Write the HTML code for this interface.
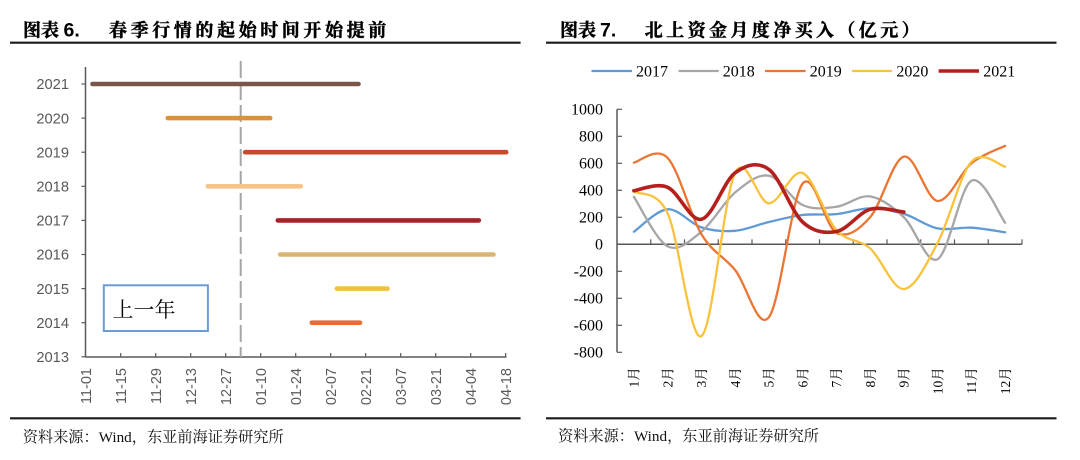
<!DOCTYPE html>
<html><head><meta charset="utf-8"><style>
html,body{margin:0;padding:0;background:#fff;}
svg{display:block;}
.ttl{font-family:"Liberation Serif","Noto Serif CJK SC",serif;font-weight:700;font-size:18px;fill:#000;stroke:#000;stroke-width:0.45;}
.ttl6{font-family:"Liberation Sans",sans-serif;font-weight:700;font-size:19.5px;fill:#000;}
.ft{font-family:"Liberation Serif","Noto Serif CJK SC",serif;font-size:15.2px;fill:#111;}
.ly{font-family:"Liberation Sans",sans-serif;font-size:14.7px;fill:#595959;}
.lx{font-family:"Liberation Sans",sans-serif;font-size:14.5px;fill:#595959;}
.ry{font-family:"Liberation Serif",serif;font-size:16px;fill:#000;}
.rx{font-family:"Liberation Serif","Noto Serif CJK SC",serif;font-size:13.5px;fill:#000;}
</style></head><body>
<svg width="1080" height="460" viewBox="0 0 1080 460" xmlns="http://www.w3.org/2000/svg">
<rect width="1080" height="460" fill="#fff"/>

<!-- ===== LEFT PANEL ===== -->
<text class="ttl" x="23" y="36.5">图表</text>
<text class="ttl6" x="63.5" y="36.7">6.</text>
<text class="ttl" x="109" y="36.5" letter-spacing="3.6">春季行情的起始时间开始提前</text>
<line x1="10" y1="42.7" x2="520.6" y2="42.7" stroke="#1a1a1a" stroke-width="2.2"/>

<!-- axes -->
<line x1="85.5" y1="67" x2="85.5" y2="357" stroke="#595959" stroke-width="1.5"/>
<line x1="85.5" y1="357" x2="506.5" y2="357" stroke="#595959" stroke-width="1.5"/>
<g stroke="#595959" stroke-width="1.2">
<line x1="81.5" y1="84" x2="85.5" y2="84"/>
<line x1="81.5" y1="118.1" x2="85.5" y2="118.1"/>
<line x1="81.5" y1="152.2" x2="85.5" y2="152.2"/>
<line x1="81.5" y1="186.3" x2="85.5" y2="186.3"/>
<line x1="81.5" y1="220.4" x2="85.5" y2="220.4"/>
<line x1="81.5" y1="254.5" x2="85.5" y2="254.5"/>
<line x1="81.5" y1="288.6" x2="85.5" y2="288.6"/>
<line x1="81.5" y1="322.7" x2="85.5" y2="322.7"/>
<line x1="81.5" y1="356.8" x2="85.5" y2="356.8"/>
<line x1="120.7" y1="353" x2="120.7" y2="357"/>
<line x1="155.7" y1="353" x2="155.7" y2="357"/>
<line x1="190.7" y1="353" x2="190.7" y2="357"/>
<line x1="225.7" y1="353" x2="225.7" y2="357"/>
<line x1="260.7" y1="353" x2="260.7" y2="357"/>
<line x1="295.7" y1="353" x2="295.7" y2="357"/>
<line x1="330.7" y1="353" x2="330.7" y2="357"/>
<line x1="365.7" y1="353" x2="365.7" y2="357"/>
<line x1="400.7" y1="353" x2="400.7" y2="357"/>
<line x1="435.7" y1="353" x2="435.7" y2="357"/>
<line x1="470.7" y1="353" x2="470.7" y2="357"/>
<line x1="505.7" y1="353" x2="505.7" y2="357"/>
</g>

<!-- year labels -->
<g class="ly" text-anchor="end">
<text x="69" y="89.2">2021</text>
<text x="69" y="123.3">2020</text>
<text x="69" y="157.4">2019</text>
<text x="69" y="191.5">2018</text>
<text x="69" y="225.6">2017</text>
<text x="69" y="259.7">2016</text>
<text x="69" y="293.8">2015</text>
<text x="69" y="327.9">2014</text>
<text x="69" y="362">2013</text>
</g>

<!-- date labels -->
<g class="lx" text-anchor="end">
<text transform="translate(85.7,368) rotate(-90)" y="5.2">11-01</text>
<text transform="translate(120.7,368) rotate(-90)" y="5.2">11-15</text>
<text transform="translate(155.7,368) rotate(-90)" y="5.2">11-29</text>
<text transform="translate(190.7,368) rotate(-90)" y="5.2">12-13</text>
<text transform="translate(225.7,368) rotate(-90)" y="5.2">12-27</text>
<text transform="translate(260.7,368) rotate(-90)" y="5.2">01-10</text>
<text transform="translate(295.7,368) rotate(-90)" y="5.2">01-24</text>
<text transform="translate(330.7,368) rotate(-90)" y="5.2">02-07</text>
<text transform="translate(365.7,368) rotate(-90)" y="5.2">02-21</text>
<text transform="translate(400.7,368) rotate(-90)" y="5.2">03-07</text>
<text transform="translate(435.7,368) rotate(-90)" y="5.2">03-21</text>
<text transform="translate(470.7,368) rotate(-90)" y="5.2">04-04</text>
<text transform="translate(505.7,368) rotate(-90)" y="5.2">04-18</text>
</g>

<!-- dashed line -->
<line x1="240.7" y1="61" x2="240.7" y2="357" stroke="#a6a6a6" stroke-width="2" stroke-dasharray="17,5"/>

<!-- bars -->
<g stroke-width="4.6" stroke-linecap="round" fill="none">
<line x1="92.5" y1="84" x2="358.5" y2="84" stroke="#7b5549"/>
<line x1="167.8" y1="118.1" x2="270.2" y2="118.1" stroke="#d8923a"/>
<line x1="245.2" y1="152.2" x2="506.2" y2="152.2" stroke="#c9472a"/>
<line x1="207.8" y1="186.3" x2="300.8" y2="186.3" stroke="#f7c488"/>
<line x1="277.8" y1="220.4" x2="478.8" y2="220.4" stroke="#a82329"/>
<line x1="280.2" y1="254.5" x2="493.5" y2="254.5" stroke="#d8b773"/>
<line x1="336.9" y1="288.6" x2="387.5" y2="288.6" stroke="#f0c13d"/>
<line x1="311.8" y1="322.7" x2="360" y2="322.7" stroke="#e76f2f"/>
</g>

<!-- text box -->
<rect x="103.8" y="285.3" width="104.1" height="45.7" fill="#fff" stroke="#6d9bd6" stroke-width="2"/>
<text x="112.5" y="317" font-family="'Noto Serif CJK SC','Noto Sans CJK SC',serif" font-size="21" fill="#000">上一年</text>

<!-- footer -->
<line x1="10" y1="418.3" x2="520.6" y2="418.3" stroke="#1a1a1a" stroke-width="2.2"/>
<text class="ft" x="22.7" y="442">资料来源：Wind，东亚前海证券研究所</text>

<!-- ===== RIGHT PANEL ===== -->
<text class="ttl" x="560" y="36.5">图表</text>
<text class="ttl6" x="600" y="36.7">7.</text>
<text class="ttl" x="644.8" y="36.5" letter-spacing="3.4">北上资金月度净买入（亿元）</text>
<line x1="546" y1="42.7" x2="1056.5" y2="42.7" stroke="#1a1a1a" stroke-width="2.2"/>

<!-- legend -->
<g stroke-width="2.3">
<line x1="591.5" y1="71" x2="632" y2="71" stroke="#5f9ad6"/>
<line x1="678.5" y1="71" x2="718.7" y2="71" stroke="#a6a6a6"/>
<line x1="765" y1="71" x2="805.6" y2="71" stroke="#eb7532"/>
<line x1="852" y1="71" x2="892" y2="71" stroke="#f9c23c"/>
<line x1="938.6" y1="71" x2="979" y2="71" stroke="#b5201e" stroke-width="3.6"/>
</g>
<g class="ry">
<text x="636" y="76.5">2017</text>
<text x="722.8" y="76.5">2018</text>
<text x="809.8" y="76.5">2019</text>
<text x="896.4" y="76.5">2020</text>
<text x="983.3" y="76.5">2021</text>
</g>

<!-- axes -->
<line x1="617" y1="109.3" x2="617" y2="352.3" stroke="#595959" stroke-width="1.5"/>
<line x1="617" y1="244.3" x2="1022" y2="244.3" stroke="#595959" stroke-width="1.5"/>
<g stroke="#595959" stroke-width="1.2">
<line x1="617" y1="109.3" x2="622" y2="109.3"/>
<line x1="617" y1="136.3" x2="622" y2="136.3"/>
<line x1="617" y1="163.3" x2="622" y2="163.3"/>
<line x1="617" y1="190.3" x2="622" y2="190.3"/>
<line x1="617" y1="217.3" x2="622" y2="217.3"/>
<line x1="617" y1="271.3" x2="622" y2="271.3"/>
<line x1="617" y1="298.3" x2="622" y2="298.3"/>
<line x1="617" y1="325.3" x2="622" y2="325.3"/>
<line x1="617" y1="352.3" x2="622" y2="352.3"/>
<line x1="650.75" y1="239.3" x2="650.75" y2="244.3"/>
<line x1="684.5" y1="239.3" x2="684.5" y2="244.3"/>
<line x1="718.25" y1="239.3" x2="718.25" y2="244.3"/>
<line x1="752" y1="239.3" x2="752" y2="244.3"/>
<line x1="785.75" y1="239.3" x2="785.75" y2="244.3"/>
<line x1="819.5" y1="239.3" x2="819.5" y2="244.3"/>
<line x1="853.25" y1="239.3" x2="853.25" y2="244.3"/>
<line x1="887" y1="239.3" x2="887" y2="244.3"/>
<line x1="920.75" y1="239.3" x2="920.75" y2="244.3"/>
<line x1="954.5" y1="239.3" x2="954.5" y2="244.3"/>
<line x1="988.25" y1="239.3" x2="988.25" y2="244.3"/>
<line x1="1022" y1="239.3" x2="1022" y2="244.3"/>
</g>

<g class="ry" text-anchor="end">
<text x="603" y="114.6">1000</text>
<text x="603" y="141.6">800</text>
<text x="603" y="168.6">600</text>
<text x="603" y="195.6">400</text>
<text x="603" y="222.6">200</text>
<text x="603" y="249.6">0</text>
<text x="603" y="276.6">-200</text>
<text x="603" y="303.6">-400</text>
<text x="603" y="330.6">-600</text>
<text x="603" y="357.6">-800</text>
</g>

<g class="rx" text-anchor="end">
<text transform="translate(633.9,367.3) rotate(-90)" y="4.7">1月</text>
<text transform="translate(667.6,367.3) rotate(-90)" y="4.7">2月</text>
<text transform="translate(701.4,367.3) rotate(-90)" y="4.7">3月</text>
<text transform="translate(735.1,367.3) rotate(-90)" y="4.7">4月</text>
<text transform="translate(768.9,367.3) rotate(-90)" y="4.7">5月</text>
<text transform="translate(802.6,367.3) rotate(-90)" y="4.7">6月</text>
<text transform="translate(836.4,367.3) rotate(-90)" y="4.7">7月</text>
<text transform="translate(870.1,367.3) rotate(-90)" y="4.7">8月</text>
<text transform="translate(903.9,367.3) rotate(-90)" y="4.7">9月</text>
<text transform="translate(937.6,367.3) rotate(-90)" y="4.7">10月</text>
<text transform="translate(971.4,367.3) rotate(-90)" y="4.7">11月</text>
<text transform="translate(1005.1,367.3) rotate(-90)" y="4.7">12月</text>
</g>

<!-- series -->
<g fill="none" stroke-linejoin="round" stroke-linecap="round">
<path stroke="#5f9ad6" stroke-width="2.3" d="M633.9,231.7 C639.5,228.0 656.4,210.0 667.6,209.3 C678.9,208.6 690.2,223.8 701.4,227.4 C712.7,231.0 723.9,231.7 735.1,230.8 C746.4,229.9 757.7,224.6 768.9,222.0 C780.2,219.4 791.4,216.3 802.6,215.0 C813.9,213.7 825.2,215.2 836.4,214.1 C847.7,213.0 858.9,208.4 870.1,208.4 C881.4,208.4 892.7,210.6 903.9,213.9 C915.2,217.2 926.4,226.1 937.6,228.4 C948.9,230.7 960.2,227.1 971.4,227.7 C982.7,228.4 999.5,231.5 1005.1,232.3"/>
<path stroke="#a6a6a6" stroke-width="2.3" d="M633.9,196.8 C639.5,205.1 656.4,240.5 667.6,246.3 C678.9,252.1 690.2,240.7 701.4,231.7 C712.7,222.7 723.9,201.8 735.1,192.5 C746.4,183.2 757.7,173.6 768.9,175.7 C780.2,177.8 791.4,199.8 802.6,205.0 C813.9,210.2 825.2,208.2 836.4,206.8 C847.7,205.4 858.9,194.7 870.1,196.4 C881.4,198.2 892.7,206.8 903.9,217.3 C915.2,227.8 926.4,265.3 937.6,259.2 C948.9,253.1 960.2,186.8 971.4,180.7 C982.7,174.6 999.5,215.7 1005.1,222.7"/>
<path stroke="#eb7532" stroke-width="2.3" d="M633.9,162.6 C639.5,161.8 656.4,146.0 667.6,157.9 C678.9,169.8 690.2,215.5 701.4,234.2 C712.7,252.9 723.9,256.2 735.1,270.0 C746.4,283.8 757.7,331.6 768.9,317.2 C780.2,302.8 791.4,197.7 802.6,183.6 C813.9,169.5 825.2,227.2 836.4,232.8 C847.7,238.4 858.9,230.0 870.1,217.3 C881.4,204.6 892.7,159.3 903.9,156.6 C915.2,153.9 926.4,199.9 937.6,201.0 C948.9,202.1 960.2,172.5 971.4,163.3 C982.7,154.1 999.5,148.7 1005.1,145.8"/>
<path stroke="#f9c23c" stroke-width="2.3" d="M633.9,191.7 C639.5,195.3 656.4,189.2 667.6,213.3 C678.9,237.4 690.2,342.85 701.4,336.1 C712.7,329.35 723.9,194.9 735.1,172.8 C746.4,150.7 757.7,203.3 768.9,203.3 C780.2,203.3 791.4,168.6 802.6,173.0 C813.9,177.5 825.2,217.4 836.4,230.0 C847.7,242.6 858.9,238.6 870.1,248.4 C881.4,258.2 892.7,289.9 903.9,289.0 C915.2,288.1 926.4,264.1 937.6,242.9 C948.9,221.7 960.2,174.4 971.4,161.7 C982.7,149.0 999.5,165.9 1005.1,166.7"/>
<path stroke="#b5201e" stroke-width="3.6" d="M633.9,190.7 C639.5,190.1 656.4,182.5 667.6,187.3 C678.9,192.1 690.2,221.7 701.4,219.3 C712.7,216.9 723.9,181.1 735.1,172.8 C746.4,164.5 757.7,161.2 768.9,169.4 C780.2,177.6 791.4,211.65 802.6,222.0 C813.9,232.35 825.2,233.6 836.4,231.5 C847.7,229.4 858.9,212.6 870.1,209.3 C881.4,206.1 898.3,211.6 903.9,212.0"/>
</g>

<!-- footer -->
<line x1="546" y1="418.3" x2="1056.5" y2="418.3" stroke="#1a1a1a" stroke-width="2.2"/>
<text class="ft" x="558" y="441">资料来源：Wind，东亚前海证券研究所</text>
</svg>
</body></html>
